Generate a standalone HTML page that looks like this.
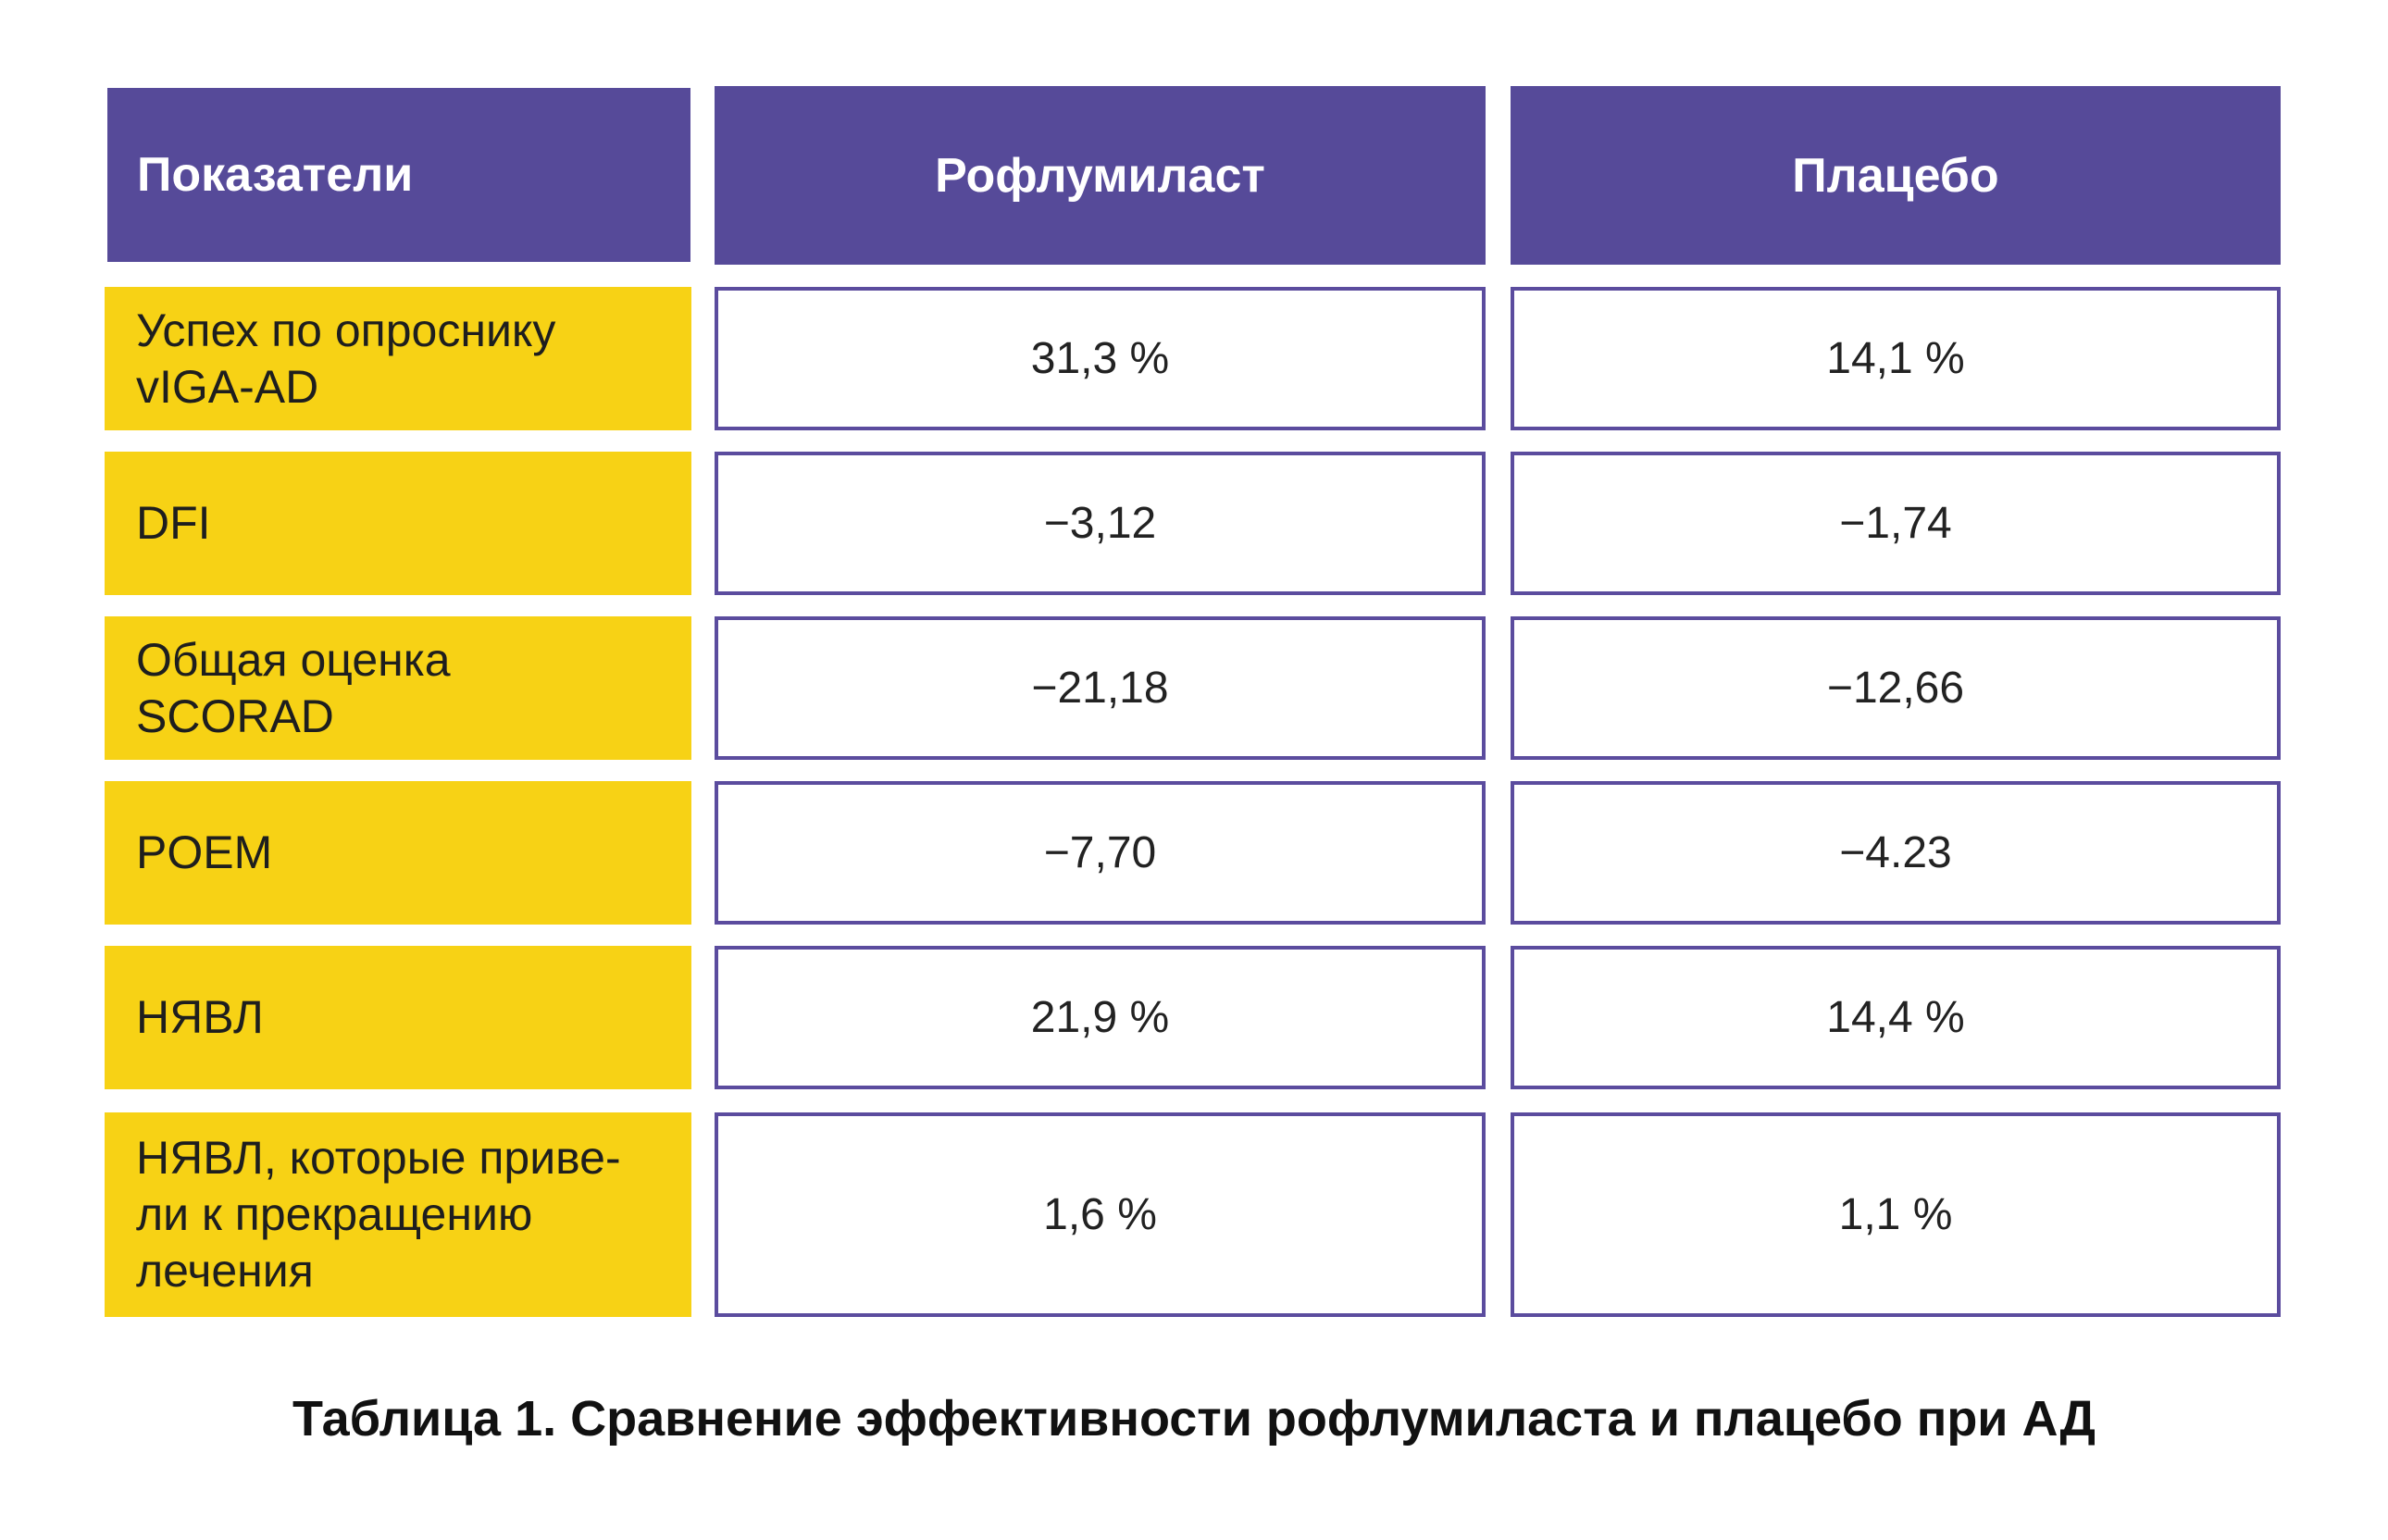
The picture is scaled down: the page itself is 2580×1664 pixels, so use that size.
<!DOCTYPE html>
<html><head><meta charset="utf-8"><style>
body{margin:0;width:2580px;height:1664px;background:#fff;position:relative;overflow:hidden;font-family:"Liberation Sans","DejaVu Sans",sans-serif}
.c{position:absolute;box-sizing:border-box;display:flex;align-items:center}
.h{background:#564a99;color:#fff;font-weight:bold;font-size:52px}
.y{background:#f7d215;color:#1e1e1e;font-size:50px;line-height:61px;padding-left:34px}
.w{border:4px solid #5b4c9e;background:#fff;justify-content:center;color:#222;font-size:48px}
</style></head><body>
<div class="c h" style="left:116px;top:95px;width:630px;height:188px;padding-left:32px">Показатели</div>
<div class="c h" style="left:772px;top:93px;width:833px;height:193px;justify-content:center">Рофлумиласт</div>
<div class="c h" style="left:1632px;top:93px;width:832px;height:193px;justify-content:center">Плацебо</div>
<div id="rows"></div>
<div style="position:absolute;left:261px;top:1502px;width:2058px;text-align:center;font-weight:bold;font-size:54px;color:#111;white-space:nowrap">Таблица 1. Сравнение эффективности рофлумиласта и плацебо при АД</div>
<script>
const labels=["Успех по опроснику<br>vIGA-AD","DFI","Общая оценка<br>SCORAD","POEM","НЯВЛ","НЯВЛ, которые приве-<br>ли к прекращению<br>лечения"];
const rofl=["31,3 %","−3,12","−21,18","−7,70","21,9 %","1,6 %"];
const plac=["14,1 %","−1,74","−12,66","−4.23","14,4 %","1,1 %"];
const tops=[310,488,666,844,1022,1202];
const hs=[155,155,155,155,155,221];
const root=document.getElementById('rows');
function mk(cls,l,t,w,h,html,name){const d=document.createElement('div');d.className='c '+cls;d.style.cssText=`left:${l}px;top:${t}px;width:${w}px;height:${h}px`;d.innerHTML=html;


root.appendChild(d);}
labels.forEach((lb,i)=>{mk('y',113,tops[i],634,hs[i],'<div>'+lb+'</div>','row-label');
mk('w',772,tops[i],833,hs[i],rofl[i],'roflumilast-value');
mk('w',1632,tops[i],832,hs[i],plac[i],'placebo-value');});
</script>
</body></html>
